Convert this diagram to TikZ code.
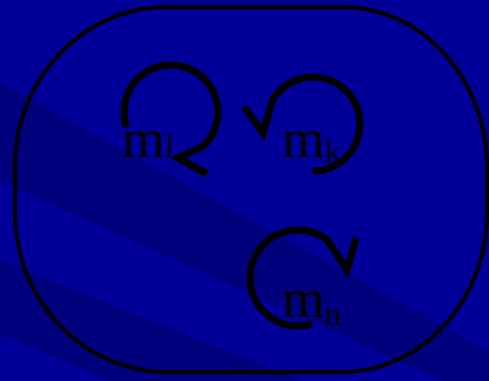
\documentclass[tikz,border=0pt]{standalone}
\usepackage{fontspec}
\setmainfont{Liberation Serif}
\usetikzlibrary{calc}
\definecolor{bglight}{RGB}{0,0,152}
\definecolor{bgdark}{RGB}{0,0,124}
\tikzset{
  frame/.style={line width=4pt, draw=black},
  turn/.style={line width=7pt, draw=black, line join=miter, miter limit=20},
  lbl/.style={anchor=base west, inner sep=0pt, text=black},
}
\newcommand{\mlab}[2]{{\fontsize{55}{55}\selectfont m}{\fontsize{32}{32}\selectfont\raisebox{#2}{#1}}}
\begin{document}
\begin{tikzpicture}[x=1pt,y=-1pt]
\useasboundingbox (0,0) rectangle (489,380);
\fill[bglight] (-3,-3) rectangle (492,383);
\begin{scope}
\clip (-3,-3) rectangle (492,383);
\fill[bgdark] (-3,81) -- (492,353) -- (492,403) -- (-3,179) -- cycle;
\fill[bgdark] (-3,259) -- (492,458) -- (492,545) -- (-3,332) -- cycle;
\end{scope}
% outline
\draw[frame] (167,7) -- (342,7)
  arc[start angle=270, end angle=360, x radius=145, y radius=160] -- (487,212)
  arc[start angle=0, end angle=90, x radius=145, y radius=160] -- (167,372)
  arc[start angle=90, end angle=180, x radius=152, y radius=160] -- (15,167)
  arc[start angle=180, end angle=270, x radius=152, y radius=160] -- cycle;
% labels
\node[lbl] (ml) at (122,157) {\mlab{l}{0pt}};
\node[lbl] (mk) at (282,157) {\mlab{k}{-5pt}};
\node[lbl] (mn) at (282,317) {\mlab{n}{-8pt}};
% rotation arrows
\coordinate (cl) at (171,112);
\draw[turn] ($(cl)+(161:47)$) arc[start angle=161, end angle=407, radius=47]
  -- (178,158) -- (207,174);
\coordinate (ck) at (313,124);
\draw[turn] ($(ck)+(90:47)$) arc[start angle=90, end angle=-149, radius=47]
  -- (263,133) -- (244,107);
\coordinate (cn) at (298,278);
\draw[turn] ($(cn)+(73:48)$) arc[start angle=73, end angle=308, radius=48]
  -- (347,270) -- (356,238);
\end{tikzpicture}
\end{document}
